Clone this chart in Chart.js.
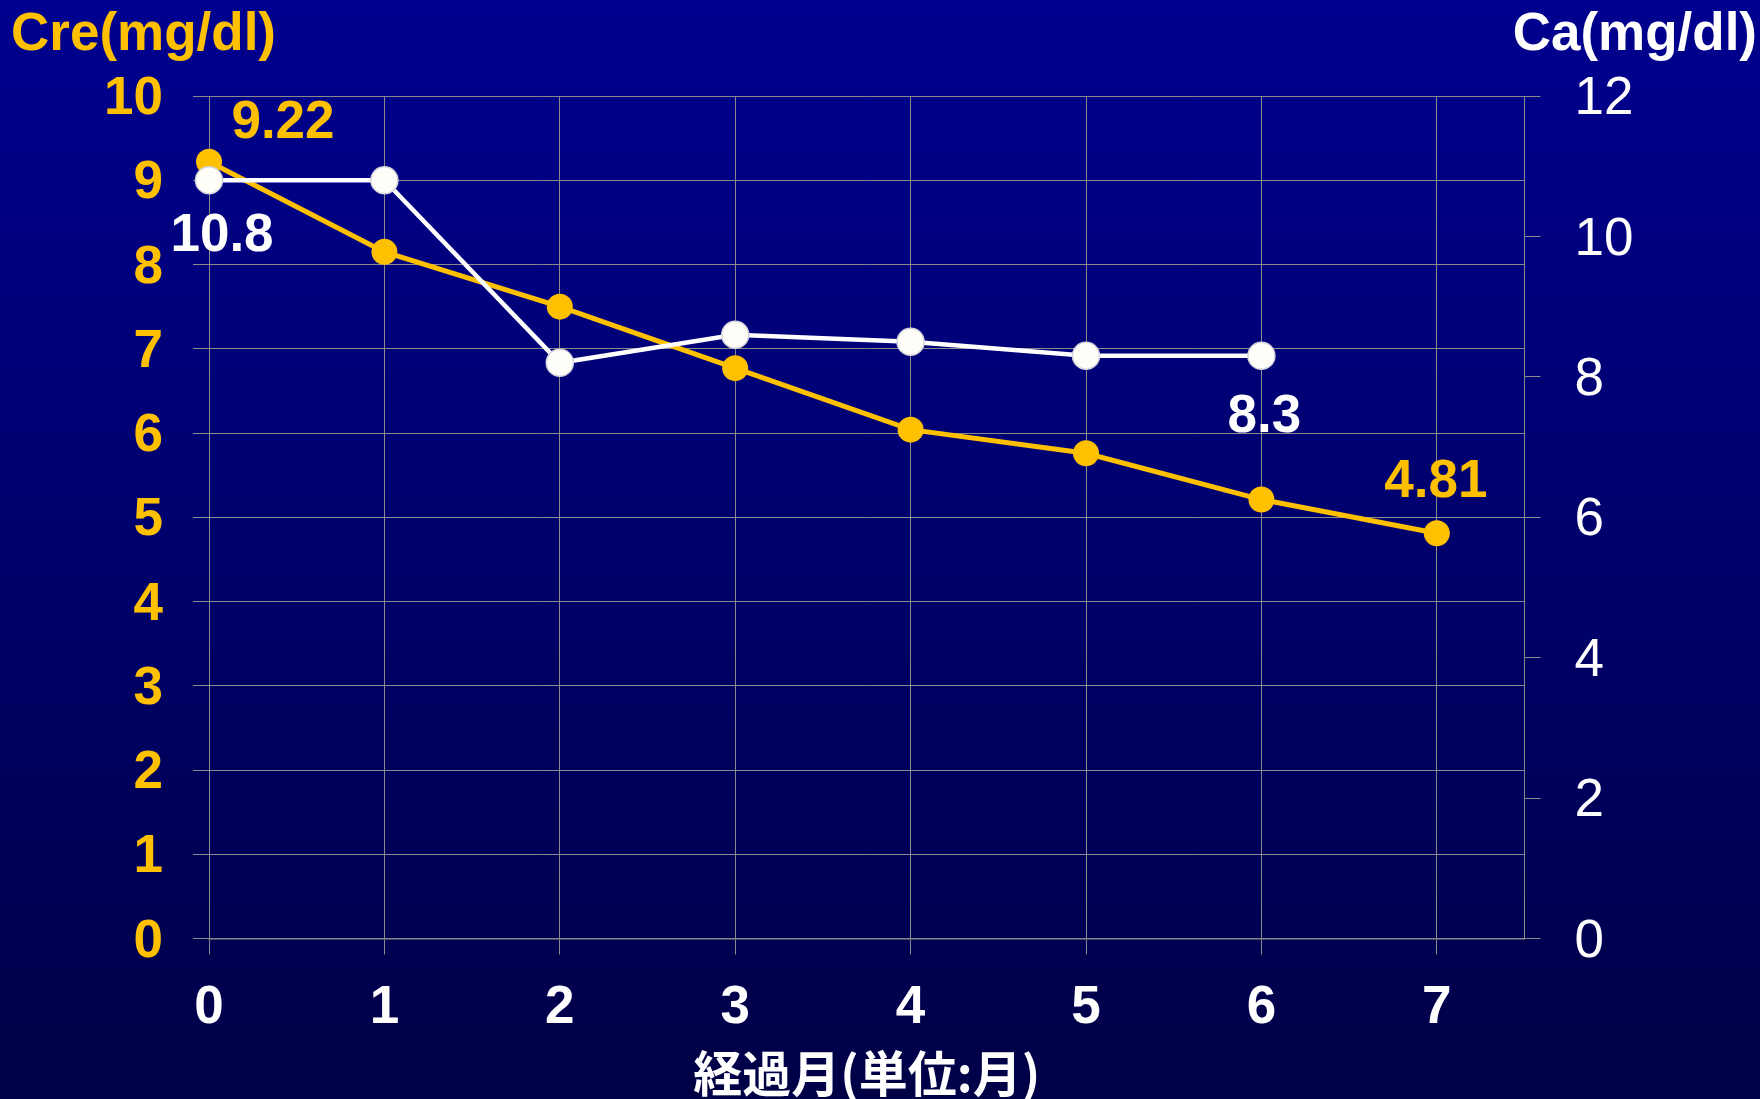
<!DOCTYPE html>
<html lang="ja">
<head>
<meta charset="utf-8">
<title>Cre / Ca 経過</title>
<script src="https://cdn.jsdelivr.net/npm/chart.js@4.4.1/dist/chart.umd.min.js"></script>
<style>
  html, body { margin: 0; padding: 0; background: #000060; }
  #wrap { width: 1760px; height: 1099px; }
  canvas { display: block; background: linear-gradient(to bottom, #00008f 0%, #000068 55%, #000046 100%); }
</style>
</head>
<body>
<div id="wrap"><canvas id="c" width="1760" height="1099"></canvas></div>
<script>
// 経過月 (months)
const months = [0, 1, 2, 3, 4, 5, 6, 7];
// Serum creatinine, mg/dl (left axis)
const creValues = [9.22, 8.15, 7.5, 6.77, 6.04, 5.76, 5.21, 4.81];
// Serum calcium, mg/dl (right axis)
const caValues = [10.8, 10.8, 8.2, 8.6, 8.5, 8.3, 8.3];
// Axis ticks
const monthTicks = [0, 1, 2, 3, 4, 5, 6, 7];
const creTicks = [0, 1, 2, 3, 4, 5, 6, 7, 8, 9, 10];
const caTicks = [0, 2, 4, 6, 8, 10, 12];

const YELLOW = '#ffc000';
const WHITE = '#ffffff';
const GRID = '#8a8a8a';
const FONT = '"Liberation Sans", Arial, Helvetica, sans-serif';
const TEXT_SIZE = 53;

// Which points carry a value label, and where the label sits relative to the point
const valueLabels = {
  cre: [{ i: 0, dx: 74, dy: -38 }, { i: 7, dx: -1, dy: -51 }],
  ca:  [{ i: 0, dx: 13, dy: 56 },  { i: 6, dx: 3,  dy: 62 }]
};

const valueLabelPlugin = {
  id: 'valueLabels',
  afterDatasetsDraw(chart) {
    const ctx = chart.ctx;
    const xs = chart.scales.x;
    ctx.save();
    ctx.font = 'bold ' + TEXT_SIZE + 'px ' + FONT;
    ctx.textAlign = 'center';
    ctx.textBaseline = 'middle';
    chart.data.datasets.forEach(ds => {
      const ys = chart.scales[ds.yAxisID];
      (valueLabels[ds.key] || []).forEach(l => {
        const p = ds.data[l.i];
        ctx.fillStyle = ds.borderColor;
        ctx.fillText(String(p.y), xs.getPixelForValue(p.x) + l.dx, ys.getPixelForValue(p.y) + l.dy);
      });
    });
    ctx.restore();
  }
};

// Unit captions above the two value axes
const unitCaptionPlugin = {
  id: 'unitCaptions',
  afterDraw(chart) {
    const ctx = chart.ctx;
    ctx.save();
    ctx.font = 'bold ' + TEXT_SIZE + 'px ' + FONT;
    ctx.textBaseline = 'alphabetic';
    ctx.fillStyle = YELLOW;
    ctx.textAlign = 'left';
    ctx.fillText('Cre(mg/dl)', 11, 50);
    ctx.fillStyle = WHITE;
    ctx.textAlign = 'right';
    ctx.fillText('Ca(mg/dl)', 1757, 50);
    ctx.restore();
  }
};

new Chart(document.getElementById('c'), {
  type: 'line',
  data: {
    datasets: [
      {
        key: 'ca',
        label: 'Ca',
        yAxisID: 'yCa',
        order: 0,
        data: caValues.map((v, i) => ({ x: months[i], y: v })),
        borderColor: WHITE,
        borderWidth: 4.5,
        pointRadius: 13.5,
        pointBackgroundColor: '#fffdf8',
        pointBorderColor: '#d4d4dc',
        pointBorderWidth: 1.5,
        tension: 0,
        clip: false
      },
      {
        key: 'cre',
        label: 'Cre',
        yAxisID: 'yCre',
        order: 1,
        data: creValues.map((v, i) => ({ x: months[i], y: v })),
        borderColor: YELLOW,
        borderWidth: 5,
        pointRadius: 13,
        pointBackgroundColor: YELLOW,
        pointBorderColor: YELLOW,
        pointBorderWidth: 0,
        tension: 0,
        clip: false
      }
    ]
  },
  options: {
    responsive: false,
    animation: false,
    events: [],
    layout: { padding: { top: 96, left: 0, right: 0, bottom: 0 } },
    plugins: { legend: { display: false }, tooltip: { enabled: false } },
    scales: {
      x: {
        type: 'linear',
        position: 'bottom',
        min: 0,
        max: 7.5,
        afterBuildTicks: s => { s.ticks = monthTicks.map(v => ({ value: v })); },
        afterFit: s => { s.height = 160.5; },
        grid: { color: GRID, lineWidth: 1, tickLength: 16, tickColor: GRID },
        border: { display: true, color: GRID, width: 1.5 },
        ticks: { color: WHITE, font: { family: FONT, size: TEXT_SIZE, weight: 'bold' }, padding: 22, maxRotation: 0 },
        title: {
          display: true,
          text: '経過月(単位:月)',
          color: WHITE,
          font: { family: '"Noto Sans CJK JP", "Noto Sans", sans-serif', size: 49, weight: 'bold', lineHeight: 1 },
          padding: { top: 0, bottom: 1 }
        }
      },
      yCre: {
        type: 'linear',
        position: 'left',
        min: 0,
        max: 10,
        afterBuildTicks: s => { s.ticks = creTicks.map(v => ({ value: v })); },
        afterFit: s => { s.width = 209; },
        grid: { color: GRID, lineWidth: 1, tickLength: 16, tickColor: GRID },
        border: { display: true, color: GRID, width: 1 },
        ticks: { color: YELLOW, font: { family: FONT, size: TEXT_SIZE, weight: 'bold' }, padding: 30, labelOffset: 3.5 }
      },
      yCa: {
        type: 'linear',
        position: 'right',
        min: 0,
        max: 12,
        afterBuildTicks: s => { s.ticks = caTicks.map(v => ({ value: v })); },
        afterFit: s => { s.width = 235.5; },
        grid: { drawOnChartArea: false, color: GRID, lineWidth: 1, tickLength: 16, tickColor: GRID },
        border: { display: true, color: GRID, width: 1 },
        ticks: { color: WHITE, font: { family: FONT, size: TEXT_SIZE, weight: 'normal' }, padding: 34, labelOffset: 3.5 }
      }
    }
  },
  plugins: [valueLabelPlugin, unitCaptionPlugin]
});
</script>
</body>
</html>
